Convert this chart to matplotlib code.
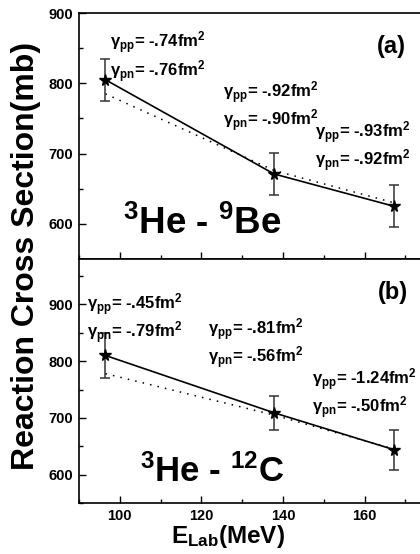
import matplotlib
matplotlib.use("Agg")
import matplotlib.pyplot as plt
from matplotlib.ticker import MultipleLocator

# Data
energy = [96.5, 137.8, 167.2]

be_sigma = [805, 671, 625]
be_err = [30, 30, 30]
be_dotted = [785, 676, 630]

c_sigma = [810, 709, 644]
c_err = [40, 30, 35]
c_dotted = [778, 705, 645]

be_labels = [("-.74", "-.76"), ("-.92", "-.90"), ("-.93", "-.92")]
c_labels = [("-.45", "-.79"), ("-.81", "-.56"), ("-1.24", "-.50")]

# Fonts
plt.rcParams["font.family"] = ["Liberation Sans", "DejaVu Sans"]
plt.rcParams["font.weight"] = "bold"
plt.rcParams["mathtext.fontset"] = "custom"
plt.rcParams["mathtext.rm"] = "Liberation Sans:bold"
plt.rcParams["mathtext.it"] = "Liberation Sans:bold"
plt.rcParams["mathtext.bf"] = "Liberation Sans:bold"
plt.rcParams["mathtext.default"] = "rm"

fig = plt.figure(figsize=(4.2, 5.54), dpi=100)
ax1 = fig.add_axes([0.188, 0.5325, 0.826, 0.444])
ax2 = fig.add_axes([0.188, 0.092, 0.826, 0.4405])


def style_axis(ax, ylim, show_x):
    ax.set_xlim(90, 175)
    ax.set_ylim(*ylim)
    ax.xaxis.set_major_locator(MultipleLocator(20))
    ax.xaxis.set_minor_locator(MultipleLocator(10))
    ax.yaxis.set_major_locator(MultipleLocator(100))
    ax.yaxis.set_minor_locator(MultipleLocator(50))
    ax.tick_params(which="both", direction="in", top=False, right=False,
                   labelsize=10.5, pad=4, width=1)
    ax.tick_params(which="major", length=5)
    ax.tick_params(which="minor", length=3)
    ax.set_yticks([600, 700, 800, 900])
    if not show_x:
        ax.tick_params(axis="x", labelbottom=False)
    for lab in ax.get_xticklabels() + ax.get_yticklabels():
        lab.set_fontweight("bold")
    for s in ax.spines.values():
        s.set_linewidth(1.2)
    ax.spines["right"].set_visible(False)


def draw_panel(ax, sigma, err, dotted):
    ax.plot(energy, dotted, color="black", linestyle=(0, (1, 4)), lw=1.1)
    ax.plot(energy, sigma, color="black", lw=1.2)
    ax.errorbar(energy, sigma, yerr=err, fmt="none", ecolor="#333333",
                elinewidth=1.1, capsize=3.5, capthick=1.1)
    ax.plot(energy, sigma, linestyle="none", marker="*", color="black",
            markersize=8.5)


def gamma_text(ax, x, y_pp, y_pn, pp, pn):
    ax.text(x, y_pp, r"$\gamma_{pp}$= " + pp + r"$\mathrm{fm}^2$",
            fontsize=12, fontweight="bold", va="baseline")
    ax.text(x, y_pn, r"$\gamma_{pn}$= " + pn + r"$\mathrm{fm}^2$",
            fontsize=12, fontweight="bold", va="baseline")


# Panel (a)
style_axis(ax1, (550, 900), False)
draw_panel(ax1, be_sigma, be_err, be_dotted)
gamma_text(ax1, 97.6, 850, 810, *be_labels[0])
gamma_text(ax1, 125.2, 780, 740, *be_labels[1])
gamma_text(ax1, 147.8, 723, 683, *be_labels[2])
ax1.text(163, 843, "(a)", fontsize=17, fontweight="bold", va="baseline")
ax1.text(100.8, 586, r"$^{3}$He - $^{9}$Be", fontsize=26.5,
         fontweight="bold", va="baseline")

# Panel (b)
style_axis(ax2, (550, 980), True)
draw_panel(ax2, c_sigma, c_err, c_dotted)
gamma_text(ax2, 92, 891, 841, *c_labels[0])
gamma_text(ax2, 121.7, 847, 797, *c_labels[1])
gamma_text(ax2, 147, 759, 709, *c_labels[2])
ax2.text(163.3, 909, "(b)", fontsize=17, fontweight="bold", va="baseline")
ax2.text(105, 588, r"$^{3}$He - $^{12}$C", fontsize=25,
         fontweight="bold", va="baseline")

fig.text(26 / 420, 1 - 256 / 554, "Reaction Cross Section(mb)",
         rotation=90, fontsize=23, fontweight="bold",
         ha="center", va="center")
fig.text(228 / 420, 1 - 543 / 554, r"E$_{\mathrm{Lab}}$(MeV)",
         fontsize=17.5, fontweight="bold", ha="center", va="baseline")

fig.savefig("out.png", dpi=100)
